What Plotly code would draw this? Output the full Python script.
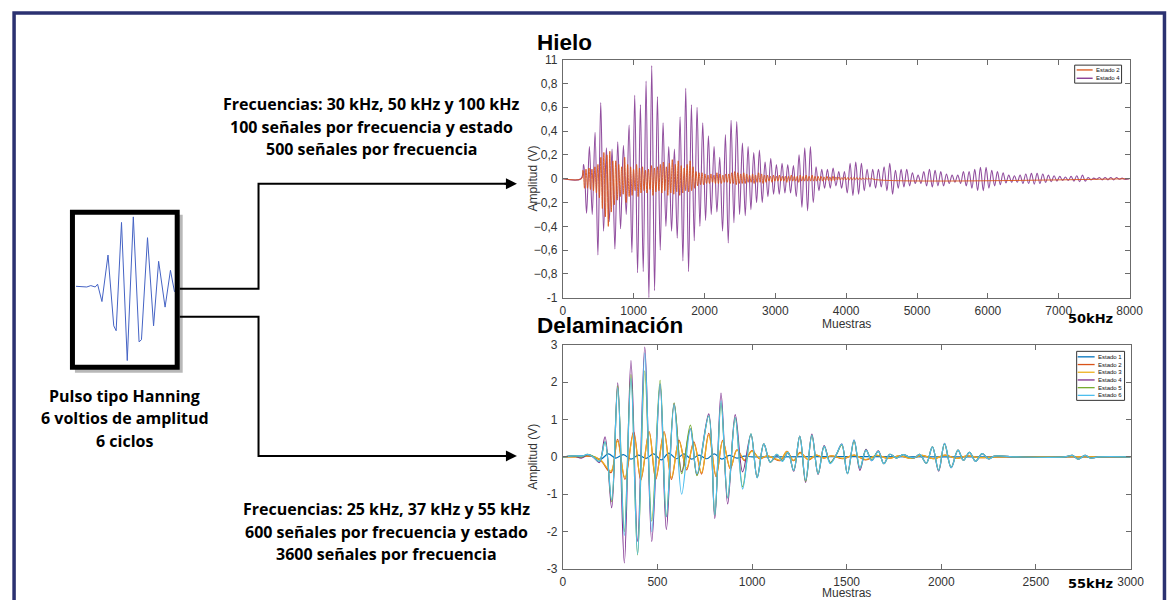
import plotly.graph_objects as go

# ---------------------------------------------------------------- data
# Hielo (50 kHz): extrema of each oscillation cycle
hielo_e4_start = 295          # sample of first positive peak
hielo_e4_period = 80          # samples per cycle
hielo_e4_peaks = [
    0.12, 0.27, 0.39, 0.64, 0.26, 0.25, 0.31, 0.28, 0.45, 0.70,
    0.62, 0.82, 0.95, 0.69, 0.47, 0.27, 0.25, 0.52, 0.76, 0.62,
    0.60, 0.47, 0.36, 0.27, 0.18, 0.37, 0.49, 0.48, 0.30, 0.27,
    0.22, 0.24, 0.14, 0.17, 0.12, 0.13, 0.12, 0.11, 0.20, 0.26,
    0.27, 0.10, 0.08, 0.08, 0.09, 0.06, 0.06, 0.13, 0.14, 0.13,
    0.08, 0.08, 0.08, 0.10, 0.13, 0.07, 0.08, 0.08, 0.05, 0.03,
    0.06, 0.08, 0.07, 0.06, 0.04, 0.03, 0.03, 0.06, 0.06, 0.08,
    0.095, 0.095, 0.07, 0.06, 0.05, 0.03, 0.025, 0.03, 0.04, 0.045,
    0.045, 0.04, 0.03, 0.025, 0.02, 0.015, 0.02, 0.025, 0.03, 0.01,
    0.005, 0.01, 0.01, 0.01, 0.01, 0.005]
hielo_e4_troughs = [
    -0.29, -0.30, -0.64, -0.44, -0.36, -0.59, -0.42, -0.30, -0.62, -0.79,
    -0.78, -1.00, -0.94, -0.60, -0.40, -0.44, -0.50, -0.69, -0.78, -0.52,
    -0.40, -0.35, -0.30, -0.28, -0.44, -0.54, -0.37, -0.30, -0.31, -0.26,
    -0.20, -0.20, -0.15, -0.13, -0.13, -0.12, -0.12, -0.15, -0.24, -0.27,
    -0.20, -0.10, -0.08, -0.08, -0.06, -0.08, -0.12, -0.14, -0.13, -0.10,
    -0.07, -0.08, -0.07, -0.10, -0.13, -0.08, -0.07, -0.06, -0.04, -0.04,
    -0.06, -0.07, -0.06, -0.06, -0.04, -0.03, -0.04, -0.06, -0.08, -0.10,
    -0.10, -0.08, -0.06, -0.05, -0.035, -0.03, -0.03, -0.04, -0.04, -0.045,
    -0.04, -0.03, -0.025, -0.02, -0.015, -0.015, -0.02, -0.025, -0.02, -0.01,
    -0.005, -0.01, -0.01, -0.01, -0.005, -0.005]

hielo_e2_start = 285
hielo_e2_period = 42
hielo_e2_peaks = [
    0.07, 0.08, 0.09, 0.08, 0.10, 0.12, 0.18, 0.22, 0.20, 0.23,
    0.15, 0.15, 0.12, 0.10, 0.18, 0.12, 0.10, 0.08, 0.12, 0.09,
    0.10, 0.07, 0.08, 0.11, 0.09, 0.10, 0.12, 0.14, 0.10, 0.13,
    0.16, 0.12, 0.15, 0.11, 0.09, 0.12, 0.15, 0.10, 0.06, 0.05,
    0.05, 0.04, 0.03, 0.04, 0.03, 0.05, 0.04, 0.03, 0.04, 0.04,
    0.05, 0.06, 0.05, 0.04, 0.05, 0.04, 0.03, 0.04, 0.03, 0.05,
    0.04, 0.03, 0.03, 0.02, 0.03, 0.02, 0.03, 0.02, 0.02, 0.02,
    0.03, 0.02, 0.02, 0.03, 0.02, 0.03, 0.02, 0.03, 0.02, 0.02,
    0.02, 0.015, 0.02, 0.015, 0.02, 0.015, 0.015, 0.01, 0.015, 0.01,
    0.01, 0.01, 0.01, 0.008, 0.008, 0.006, 0.005, 0.005]
hielo_e2_troughs = [
    -0.08, -0.08, -0.09, -0.10, -0.12, -0.16, -0.25, -0.32, -0.40, -0.28,
    -0.22, -0.18, -0.15, -0.13, -0.20, -0.15, -0.14, -0.10, -0.15, -0.12,
    -0.10, -0.12, -0.09, -0.14, -0.11, -0.10, -0.12, -0.10, -0.14, -0.12,
    -0.13, -0.11, -0.14, -0.12, -0.10, -0.11, -0.10, -0.08, -0.06, -0.05,
    -0.05, -0.04, -0.04, -0.03, -0.04, -0.04, -0.04, -0.03, -0.03, -0.04,
    -0.04, -0.05, -0.04, -0.04, -0.04, -0.03, -0.03, -0.04, -0.03, -0.03,
    -0.04, -0.03, -0.02, -0.03, -0.02, -0.02, -0.02, -0.02, -0.03, -0.02,
    -0.02, -0.02, -0.03, -0.02, -0.02, -0.02, -0.02, -0.02, -0.02, -0.015,
    -0.02, -0.015, -0.015, -0.02, -0.015, -0.01, -0.01, -0.01, -0.01, -0.01,
    -0.01, -0.008, -0.008, -0.008, -0.006, -0.005, -0.005, -0.004]
hielo_last_sample = 8000

hielo_xticks = [0, 1000, 2000, 3000, 4000, 5000, 6000, 7000, 8000]
hielo_yticks = [-1, -0.8, -0.6, -0.4, -0.2, 0, 0.2, 0.4, 0.6, 0.8, 1]
hielo_yticktext = ["-1", "\u22120,8", "\u22120,6", "\u22120,4", "\u22120,2", "0",
                   "0,2", "0,4", "0,6", "0,8", "11"]

# Delaminación (55 kHz): extrema
delam_fast_samples = [
    0, 60, 100, 130, 160, 193, 223, 258, 290, 325,
    360, 395, 433, 470, 514, 547, 588, 628, 674, 709,
    771, 803, 836, 871, 911, 950, 994, 1027, 1062, 1096,
    1131, 1160, 1190, 1220, 1252, 1283, 1316, 1349, 1381, 1413,
    1444, 1474, 1504, 1539, 1570, 1602, 1632, 1667, 1696, 1728,
    1763, 1798, 1830, 1860, 1886, 1921, 1953, 1986, 2017, 2052,
    2088, 2117, 2149, 2181, 2216, 2249, 2281, 2400, 2650, 2693,
    2724, 2759, 2789, 2830, 3000]
delam_e4 = [
    0, 0.02, -0.03, 0.06, 0.0, -0.15, 0.54, -1.36, 1.98, -2.84,
    2.58, -2.26, 2.94, -2.26, 1.95, -1.94, 1.43, -0.40, 0.75, -0.48,
    1.15, -1.65, 1.71, -1.26, 1.13, -0.40, 0.60, -0.55, 0.35, -0.14,
    0.05, -0.10, 0.12, -0.38, 0.56, -0.68, 0.61, -0.47, 0.30, -0.15,
    0.05, 0.34, -0.45, 0.45, -0.36, 0.20, -0.10, 0.16, -0.18, 0.07,
    -0.03, 0.06, 0.0, -0.02, 0.07, -0.17, 0.27, -0.38, 0.36, -0.29,
    0.18, -0.09, 0.12, -0.12, 0.09, -0.05, 0.02, 0.0, 0.0, 0.04,
    -0.06, 0.04, -0.03, 0.0, 0.0]
delam_e5 = [
    0, 0.03, 0.0, 0.07, 0.02, -0.12, 0.40, -1.20, 1.90, -2.00,
    2.20, -2.62, 2.30, -1.72, 2.05, -1.60, 1.45, -0.45, 0.85, -0.50,
    1.10, -1.55, 1.45, -1.10, 1.05, -0.80, 0.62, -0.55, 0.35, -0.14,
    0.07, -0.10, 0.12, -0.36, 0.55, -0.65, 0.58, -0.45, 0.28, -0.15,
    0.05, 0.32, -0.45, 0.42, -0.30, 0.18, -0.08, 0.15, -0.18, 0.07,
    -0.03, 0.06, 0.0, -0.02, 0.07, -0.17, 0.27, -0.36, 0.35, -0.28,
    0.18, -0.09, 0.12, -0.11, 0.09, -0.05, 0.02, 0.0, 0.0, 0.04,
    -0.06, 0.04, -0.03, 0.0, 0.0]
delam_e6 = [
    0, 0.03, 0.02, 0.07, 0.0, -0.12, 0.40, -1.15, 1.85, -2.10,
    2.10, -2.60, 2.78, -2.00, 1.95, -1.60, 1.40, -1.00, 0.75, -0.45,
    1.10, -1.55, 1.50, -1.10, 1.05, -0.86, 0.62, -0.56, 0.35, -0.14,
    0.07, -0.12, 0.12, -0.36, 0.55, -0.62, 0.58, -0.45, 0.28, -0.18,
    0.05, 0.34, -0.45, 0.45, -0.30, 0.18, -0.10, 0.15, -0.18, 0.07,
    -0.03, 0.06, 0.0, -0.02, 0.07, -0.17, 0.27, -0.36, 0.36, -0.29,
    0.18, -0.09, 0.12, -0.12, 0.09, -0.05, 0.02, 0.0, 0.0, 0.04,
    -0.06, 0.04, -0.03, 0.0, 0.0]

delam_slow_samples = [
    0, 100, 150, 200, 254, 289, 328, 374, 412, 456,
    491, 535, 574, 614, 654, 692, 733, 771, 810, 845,
    885, 920, 961, 999, 1040, 1080, 1110, 1149, 1184, 1219,
    1254, 1298, 1340, 1380, 1420, 1480, 1540, 1600, 1660, 1720,
    1780, 1840, 1900, 1960, 2020, 2080, 2140, 2200, 2300, 3000]
delam_e2 = [
    0, 0.0, 0.02, -0.10, -0.42, 0.47, -0.60, 0.68, -0.62, 0.68,
    -0.60, 0.68, -0.60, 0.45, -0.35, 0.40, -0.46, 0.63, -0.53, 0.44,
    -0.32, 0.19, -0.10, 0.17, -0.05, 0.03, -0.03, -0.10, 0.15, -0.10,
    0.12, -0.08, 0.05, -0.03, 0.03, -0.05, 0.05, -0.08, 0.04, -0.04,
    0.03, -0.04, 0.04, -0.05, 0.05, -0.04, 0.03, -0.02, 0.0, 0.0]
delam_e3 = [
    0, 0.01, 0.03, -0.08, -0.38, 0.42, -0.55, 0.62, -0.58, 0.65,
    -0.56, 0.64, -0.55, 0.42, -0.30, 0.36, -0.42, 0.58, -0.50, 0.42,
    -0.30, 0.18, -0.08, 0.15, -0.04, 0.03, -0.02, -0.08, 0.14, -0.09,
    0.10, -0.07, 0.05, -0.03, 0.03, -0.04, 0.05, -0.07, 0.04, -0.04,
    0.03, -0.04, 0.04, -0.05, 0.05, -0.04, 0.03, -0.02, 0.0, 0.0]

delam_e1_samples = [0, 150, 200, 240, 280, 320, 360, 400, 440, 480, 520, 560, 600,
                    640, 680, 720, 760, 800, 840, 880, 920, 960, 1000, 1100, 1500,
                    2000, 3000]
delam_e1 = [0, 0.02, -0.06, 0.08, -0.03, 0.06, -0.06, 0.05, -0.04, 0.08, -0.08, 0.10,
            -0.05, 0.08, -0.06, 0.05, -0.05, 0.08, -0.06, 0.04, -0.03, 0.02, 0, 0,
            0.01, 0, 0]

delam_xticks = [0, 500, 1000, 1500, 2000, 2500, 3000]
delam_yticks = [-3, -2, -1, 0, 1, 2, 3]
delam_yticktext = ["-3", "-2", "-1", "0", "1", "2", "3"]

# Hanning pulse sketch (relative time 0-100, normalised amplitude)
pulse_t = [0, 7.5, 10.9, 15, 19.4, 21.8, 26.2, 32.3, 38.1, 40.5, 45.9, 51.7, 57.8,
           63.6, 66, 72.1, 78.2, 83.3, 89.8, 95.2, 99.3]
pulse_v = [0, 0, -0.01, 0.01, -0.01, 0.03, -0.22, 0.45, -0.57, -0.64, 0.92, -1.07,
           1.0, -0.80, -0.77, 0.70, -0.57, 0.36, -0.30, 0.23, -0.08]

hielo_names = ["Estado 2", "Estado 4"]
delam_names = ["Estado 1", "Estado 2", "Estado 3", "Estado 4", "Estado 5", "Estado 6"]
colors = {"Estado 1": "#0072BD", "Estado 2": "#D95319", "Estado 3": "#EDB120",
          "Estado 4": "#7E2F8E", "Estado 5": "#77AC30", "Estado 6": "#4DBEEE"}

# ---------------------------------------------------------------- helpers
W, H = 1170, 600
# the captured page comes out slightly scaled/offset; these map target pixels
SX, OX = 0.9877, 0.9
SY, OY = 0.976, 6.4


def px(x):
    return (x - OX) / SX / W


def py(y):
    return 1 - (y - OY) / SY / H


def oscillation(start, period, peaks, troughs, end):
    xs, ys = [0, start - period / 2], [0.0, 0.0]
    for i, (p, t) in enumerate(zip(peaks, troughs)):
        xs += [start + i * period, start + i * period + period / 2]
        ys += [p, t]
    xs.append(end)
    ys.append(0.0)
    return xs, ys


fig = go.Figure()

# Hielo traces
x4, y4 = oscillation(hielo_e4_start, hielo_e4_period, hielo_e4_peaks, hielo_e4_troughs, hielo_last_sample)
x2, y2 = oscillation(hielo_e2_start, hielo_e2_period, hielo_e2_peaks, hielo_e2_troughs, hielo_last_sample)
fig.add_trace(go.Scatter(x=x4, y=y4, mode="lines", name="Estado 4", showlegend=False,
                         line=dict(color=colors["Estado 4"], width=1.1, shape="spline", smoothing=1),
                         opacity=0.85, xaxis="x", yaxis="y"))
fig.add_trace(go.Scatter(x=x2, y=y2, mode="lines", name="Estado 2", showlegend=False,
                         line=dict(color=colors["Estado 2"], width=0.9, shape="spline", smoothing=1),
                         xaxis="x", yaxis="y"))

# Delaminación traces
delam_series = [
    ("Estado 1", delam_e1_samples, delam_e1),
    ("Estado 2", delam_slow_samples, delam_e2),
    ("Estado 3", delam_slow_samples, delam_e3),
    ("Estado 4", delam_fast_samples, delam_e4),
    ("Estado 5", delam_fast_samples, delam_e5),
    ("Estado 6", delam_fast_samples, delam_e6),
]
for name, xs, ys in delam_series:
    fig.add_trace(go.Scatter(x=xs, y=ys, mode="lines", name=name, showlegend=False,
                             line=dict(color=colors[name], width=1.2, shape="spline", smoothing=1),
                             xaxis="x2", yaxis="y2"))

# Pulse trace
fig.add_trace(go.Scatter(x=pulse_t, y=pulse_v, mode="lines", name="Pulso", showlegend=False,
                         line=dict(color="#4563C4", width=1), xaxis="x3", yaxis="y3"))

tickfont = dict(family="Liberation Sans, Arial, sans-serif", size=12, color="#333333")
ax_common = dict(showline=True, linecolor="#6b6b6b", linewidth=1, mirror="ticks",
                 ticks="inside", ticklen=5, tickcolor="#6b6b6b", showgrid=False,
                 zeroline=False, tickfont=tickfont, ticklabelstandoff=2)

fig.update_layout(
    width=W, height=H, autosize=False, margin=dict(l=0, r=0, t=0, b=0),
    paper_bgcolor="white", plot_bgcolor="rgba(0,0,0,0)", showlegend=False,
    xaxis=dict(domain=[px(562), px(1130)], range=[0, 8000], anchor="y",
               tickvals=hielo_xticks, **ax_common),
    yaxis=dict(domain=[py(297), py(59)], range=[-1, 1], anchor="x",
               tickvals=hielo_yticks, ticktext=hielo_yticktext, **ax_common),
    xaxis2=dict(domain=[px(562), px(1131)], range=[0, 3000], anchor="y2",
                tickvals=delam_xticks, **ax_common),
    yaxis2=dict(domain=[py(568), py(344)], range=[-3, 3], anchor="x2",
                tickvals=delam_yticks, ticktext=delam_yticktext, **ax_common),
    xaxis3=dict(domain=[px(74), px(173.5)], range=[0, 100], anchor="y3", visible=False),
    yaxis3=dict(domain=[py(361.8), py(209.2)], range=[-1.1, 1.1], anchor="x3", visible=False),
)

shapes = []
# outer navy frame
shapes.append(dict(type="rect", xref="paper", yref="paper", x0=px(12), x1=px(1165),
                   y0=py(660), y1=py(12.5), line=dict(color="#2B3271", width=3.5)))
# pulse box: shadow, white fill, border
shapes.append(dict(type="rect", xref="paper", yref="paper", x0=px(73), x1=px(181),
                   y0=py(372), y1=py(214), fillcolor="rgba(0,0,0,0.28)",
                   line=dict(width=0), layer="below"))
shapes.append(dict(type="rect", xref="paper", yref="paper", x0=px(70.5), x1=px(175.5),
                   y0=py(366.5), y1=py(211.5), fillcolor="white",
                   line=dict(width=0), layer="below"))
shapes.append(dict(type="rect", xref="paper", yref="paper", x0=px(70.5), x1=px(175.5),
                   y0=py(366.5), y1=py(211.5), line=dict(color="black", width=5)))


def path(points):
    return "M " + " L ".join(f"{px(a)},{py(b)}" for a, b in points)


shapes.append(dict(type="path", xref="paper", yref="paper",
                   path=path([(178, 288), (257, 288), (257, 183), (506, 183)]),
                   line=dict(color="black", width=2)))
shapes.append(dict(type="path", xref="paper", yref="paper",
                   path=path([(178, 316), (257, 316), (257, 455), (506, 455)]),
                   line=dict(color="black", width=2)))


# manual legends (MATLAB-style small boxes)
def legend_box(x0, x1, y0, y1, entries, y_first, step, lx0, lx1):
    shapes.append(dict(type="rect", xref="paper", yref="paper", x0=px(x0), x1=px(x1),
                       y0=py(y1), y1=py(y0), fillcolor="white",
                       line=dict(color="#333333", width=1)))
    anns = []
    for i, name in enumerate(entries):
        yy = y_first + i * step
        shapes.append(dict(type="line", xref="paper", yref="paper", x0=px(lx0), x1=px(lx1),
                           y0=py(yy), y1=py(yy), line=dict(color=colors[name], width=1.3)))
        anns.append(dict(text=name, x=px(lx1 + 1), y=py(yy), xref="paper", yref="paper",
                         xanchor="left", yanchor="middle", showarrow=False,
                         font=dict(family="Liberation Sans, Arial", size=6, color="#111")))
    return anns


annotations = []
annotations += legend_box(1075, 1122, 64.5, 82.5, hielo_names, 69.3, 8.3, 1077, 1093)
annotations += legend_box(1077, 1125, 350.5, 399.5, delam_names, 356, 7.7, 1078, 1095)

# arrowheads
for yy in (183, 455):
    annotations.append(dict(x=px(516), y=py(yy), xref="paper", yref="paper", text="",
                            showarrow=True, ax=-14, ay=0, arrowhead=2, arrowsize=1.1,
                            arrowwidth=2, arrowcolor="black"))


def txt(text, x, y, size, family, bold=False, xanchor="center", color="black", angle=0):
    annotations.append(dict(text=text, x=px(x), y=py(y), xref="paper", yref="paper",
                            xanchor=xanchor, yanchor="middle", showarrow=False, textangle=angle,
                            font=dict(family=family, size=size, color=color,
                                      weight="bold" if bold else "normal")))


sans = "Liberation Sans, Arial, sans-serif"
txt("Hielo", 534, 41.5, 22.5, sans, True, "left")
txt("Delaminación", 534, 325, 22.5, sans, True, "left")
txt("50kHz", 1091, 318, 13, "DejaVu Sans", True)
txt("55kHz", 1091, 583, 13, "DejaVu Sans", True)
txt("Muestras", 846, 323, 12, sans, color="#333333")
txt("Muestras", 846, 592, 12, sans, color="#333333")
txt("Amplitud (V)", 532, 178, 12, sans, color="#333333", angle=-90)
txt("Amplitud (V)", 532, 456, 12, sans, color="#333333", angle=-90)

body = "Open Sans, Noto Sans, sans-serif"
txt("Frecuencias: 30 kHz, 50 kHz y 100 kHz", 370, 103, 16, body, True)
txt("100 señales por frecuencia y estado", 370, 126, 16, body, True)
txt("500 señales por frecuencia", 370, 148, 16, body, True)
txt("Frecuencias: 25 kHz, 37 kHz y 55 kHz", 385, 508, 16, body, True)
txt("600 señales por frecuencia y estado", 385, 531, 16, body, True)
txt("3600 señales por frecuencia", 385, 553, 16, body, True)
txt("Pulso tipo Hanning", 123, 395, 16, body, True)
txt("6 voltios de amplitud", 123, 417, 16, body, True)
txt("6 ciclos", 123, 440, 16, body, True)

fig.update_layout(shapes=shapes, annotations=annotations)
fig.write_html(
    "out.html",
    config={"responsive": False, "displayModeBar": False},
    post_script="document.documentElement.style.margin='0';"
                "document.body.style.margin='0';document.body.style.padding='0';"
                "document.body.style.overflow='hidden';",
)
